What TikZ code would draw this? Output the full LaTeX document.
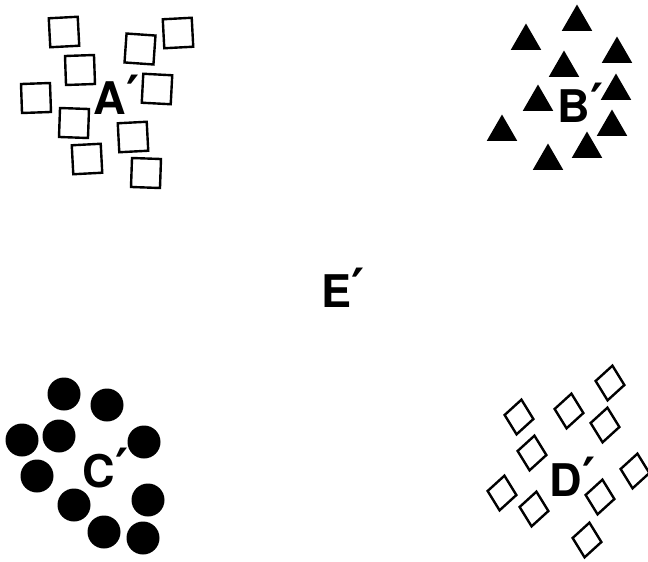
\documentclass[tikz,border=0pt]{standalone}
\usepackage{fontspec}
\setmainfont{TeX Gyre Heros}
\newfontfamily\primefont{DejaVu Sans}
\usetikzlibrary{shapes.geometric}
\newcommand{\pr}{{\primefont\fontsize{50}{50}\selectfont\kern0.5pt\raisebox{3pt}{′}}}
\begin{document}
\begin{tikzpicture}[x=1pt,y=-1pt,
  sq/.style={draw,line width=2.4pt,rectangle,inner sep=0pt,minimum size=29pt},
  tri/.style={fill=black,regular polygon,regular polygon sides=3,inner sep=0pt,minimum size=35pt},
  dot/.style={fill=black,circle,inner sep=0pt,minimum size=33pt},
  dia/.style={draw,line width=2.4pt,diamond,inner sep=0pt,minimum width=30pt,minimum height=36pt},
  lbl/.style={font=\fontsize{45}{45}\selectfont\bfseries,inner sep=0pt,anchor=west}]
\useasboundingbox (0,0) rectangle (648,562);
% A' squares
\node[sq,rotate=3] (s1) at (64,32) {};
\node[sq,rotate=-4] (s2) at (140,49) {};
\node[sq,rotate=3] (s3) at (178,33) {};
\node[sq,rotate=2] (s4) at (80,70) {};
\node[sq,rotate=-3] (s5) at (157,89) {};
\node[sq,rotate=2] (s6) at (36,98) {};
\node[sq,rotate=-2] (s7) at (74,123) {};
\node[sq,rotate=3] (s8) at (133,137) {};
\node[sq,rotate=3] (s9) at (87,159) {};
\node[sq,rotate=-2] (s10) at (146,173) {};
\node[lbl] (A) at (93,95) {A\pr};
% B' triangles
\node[tri] (t1) at (577,22) {};
\node[tri] (t2) at (526,41) {};
\node[tri] (t3) at (617,54) {};
\node[tri] (t4) at (564,68) {};
\node[tri] (t5) at (616,91) {};
\node[tri] (t6) at (538,102) {};
\node[tri] (t7) at (502,132) {};
\node[tri] (t8) at (612,127) {};
\node[tri] (t9) at (587,149) {};
\node[tri] (t10) at (548,161) {};
\node[lbl] (B) at (557,103) {B\pr};
% E'
\node[lbl] (E) at (321,288) {E\pr};
% C' circles
\node[dot] (c1) at (64,394) {};
\node[dot] (c2) at (107,405) {};
\node[dot] (c3) at (22,440) {};
\node[dot] (c4) at (59,436) {};
\node[dot] (c5) at (144,442) {};
\node[dot] (c6) at (37,476) {};
\node[dot] (c7) at (74,505) {};
\node[dot] (c8) at (148,500) {};
\node[dot] (c9) at (104,532) {};
\node[dot] (c10) at (143,538) {};
\node[lbl] (C) at (82,468) {C\pr};
% D' diamonds
\node[dia,rotate=-8] (d1) at (610,383) {};
\node[dia,rotate=-8] (d2) at (569,411) {};
\node[dia,rotate=-8] (d3) at (519,417) {};
\node[dia,rotate=-8] (d4) at (605,425) {};
\node[dia,rotate=-8] (d5) at (532,453) {};
\node[dia,rotate=-8] (d6) at (635,471) {};
\node[dia,rotate=-8] (d7) at (502,493) {};
\node[dia,rotate=-8] (d8) at (534,509) {};
\node[dia,rotate=-8] (d9) at (600,497) {};
\node[dia,rotate=-8] (d10) at (587,540) {};
\node[lbl] (D) at (549,477) {D\pr};
\end{tikzpicture}
\end{document}
